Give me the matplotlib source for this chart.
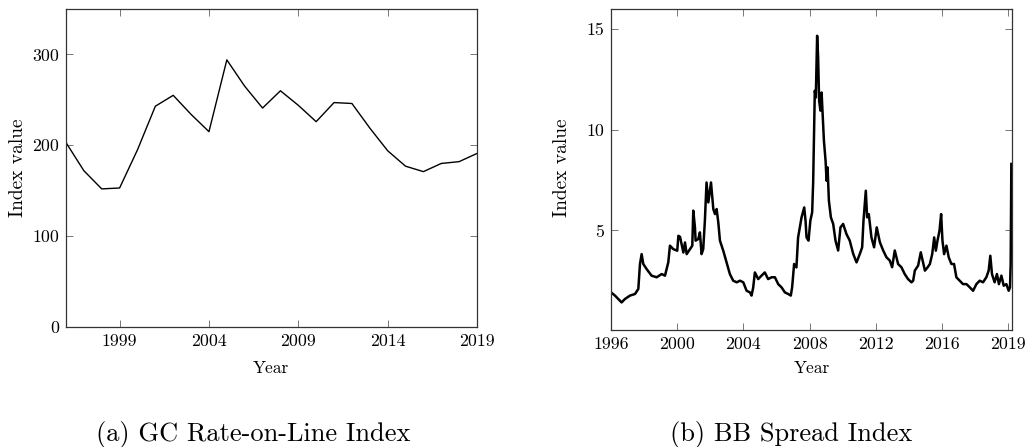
import matplotlib
matplotlib.use("Agg")
import matplotlib.pyplot as plt

# ---------------- data ----------------
gc_years = list(range(1996, 2020))
gc_values = [203, 172, 152, 153, 195, 243, 255, 234, 215, 294, 265, 241, 260, 244, 226,
             247, 246, 219, 194, 177, 171, 180, 182, 191]

bb_years = [1996.00, 1996.24, 1996.64, 1996.84, 1997.15, 1997.45, 1997.65, 1997.75, 1997.85, 1997.95,
            1998.15, 1998.45, 1998.76, 1999.06, 1999.26, 1999.46, 1999.56, 1999.76, 2000.00, 2000.07,
            2000.17, 2000.37, 2000.47, 2000.57, 2000.77, 2000.91, 2000.97, 2001.07, 2001.11, 2001.27,
            2001.37, 2001.47, 2001.57, 2001.67, 2001.77, 2001.88, 2002.04, 2002.18, 2002.28, 2002.38,
            2002.48, 2002.58, 2002.78, 2002.98, 2003.18, 2003.38, 2003.59, 2003.79, 2003.99, 2004.19,
            2004.39, 2004.49, 2004.59, 2004.69, 2004.89, 2005.09, 2005.29, 2005.49, 2005.70, 2005.90,
            2006.10, 2006.30, 2006.50, 2006.70, 2006.86, 2006.94, 2007.06, 2007.20, 2007.30, 2007.51,
            2007.67, 2007.75, 2007.81, 2007.93, 2008.04, 2008.15, 2008.21, 2008.31, 2008.37, 2008.45,
            2008.51, 2008.57, 2008.65, 2008.72, 2008.78, 2008.86, 2008.96, 2009.02, 2009.08, 2009.16,
            2009.28, 2009.42, 2009.56, 2009.72, 2009.86, 2010.02, 2010.22, 2010.42, 2010.63, 2010.83,
            2011.03, 2011.17, 2011.25, 2011.39, 2011.47, 2011.57, 2011.73, 2011.89, 2012.05, 2012.24,
            2012.44, 2012.64, 2012.84, 2012.98, 2013.14, 2013.34, 2013.54, 2013.74, 2013.94, 2014.15,
            2014.25, 2014.35, 2014.55, 2014.71, 2014.85, 2014.96, 2015.12, 2015.26, 2015.40, 2015.52,
            2015.62, 2015.72, 2015.84, 2015.94, 2016.02, 2016.12, 2016.26, 2016.40, 2016.56, 2016.72,
            2016.86, 2017.06, 2017.26, 2017.47, 2017.67, 2017.87, 2018.07, 2018.27, 2018.47, 2018.67,
            2018.81, 2018.91, 2019.01, 2019.17, 2019.31, 2019.43, 2019.58, 2019.72, 2019.88, 2020.02,
            2020.10, 2020.14, 2020.18]
bb_values = [1.92, 1.76, 1.42, 1.59, 1.76, 1.84, 2.09, 3.33, 3.82, 3.33,
             3.08, 2.75, 2.67, 2.83, 2.75, 3.41, 4.24, 4.07, 3.99, 4.73,
             4.68, 3.90, 4.40, 3.82, 4.07, 4.24, 5.98, 5.15, 4.49, 4.57,
             4.90, 3.82, 4.07, 5.48, 7.38, 6.39, 7.38, 6.06, 5.81, 6.06,
             5.40, 4.49, 3.99, 3.41, 2.83, 2.50, 2.42, 2.50, 2.42, 2.00,
             1.92, 1.76, 2.17, 2.91, 2.58, 2.75, 2.91, 2.58, 2.67, 2.67,
             2.33, 2.17, 1.92, 1.84, 1.76, 2.17, 3.33, 3.16, 4.65, 5.65,
             6.14, 5.48, 4.65, 4.49, 5.48, 5.90, 7.39, 11.94, 11.60, 14.67,
             13.60, 11.45, 10.95, 11.85, 10.78, 9.46, 8.46, 7.47, 8.13, 6.48,
             5.65, 5.32, 4.49, 4.00, 5.15, 5.32, 4.82, 4.49, 3.83, 3.41,
             3.83, 4.16, 5.48, 6.97, 5.65, 5.81, 4.65, 4.16, 5.15, 4.41,
             4.00, 3.66, 3.50, 3.17, 4.00, 3.33, 3.17, 2.83, 2.58, 2.42,
             2.50, 3.00, 3.25, 3.91, 3.41, 3.00, 3.16, 3.33, 3.82, 4.65,
             3.99, 4.49, 4.98, 5.81, 4.49, 3.82, 4.24, 3.66, 3.33, 3.33,
             2.67, 2.50, 2.33, 2.33, 2.17, 2.00, 2.33, 2.50, 2.42, 2.67,
             3.00, 3.74, 2.83, 2.42, 2.83, 2.33, 2.75, 2.25, 2.33, 2.00,
             2.17, 3.33, 8.30]

gc_xticks = [1999, 2004, 2009, 2014, 2019]
gc_yticks = [0, 100, 200, 300]
bb_xticks = [1996, 2000, 2004, 2008, 2012, 2016, 2020]
bb_xticklabels = ["1996", "2000", "2004", "2008", "2012", "2016", "2019"]
bb_yticks = [5, 10, 15]

# ---------------- style ----------------
plt.rcParams["font.family"] = ["cmr10", "DejaVu Serif"]
plt.rcParams["mathtext.fontset"] = "cm"
plt.rcParams["axes.formatter.use_mathtext"] = True
plt.rcParams["axes.unicode_minus"] = False

fig = plt.figure(figsize=(10.30, 4.47), dpi=100)
W, H = 1030.0, 447.0

def px_axes(l, t, r, b):
    return fig.add_axes([l / W, 1 - b / H, (r - l) / W, (b - t) / H])

ax1 = px_axes(66, 9, 477, 327)
ax2 = px_axes(611, 9, 1012, 330)

TICK_FS = 12.8
for ax in (ax1, ax2):
    for s in ax.spines.values():
        s.set_color("#333333")
        s.set_linewidth(0.9)
    ax.tick_params(direction="in", top=True, right=True, length=5, width=0.7,
                   color="#777777", labelsize=TICK_FS, pad=5)

ax1.plot(gc_years, gc_values, color="black", lw=1.0)
ax1.set_xlim(1996, 2019)
ax1.set_ylim(0, 350)
ax1.set_xticks(gc_xticks)
ax1.set_xticklabels([str(t) for t in gc_xticks])
ax1.set_yticks(gc_yticks)
ax1.set_yticklabels([str(t) for t in gc_yticks])

ax2.plot(bb_years, bb_values, color="black", lw=1.8)
ax2.set_xlim(1996.0, 2020.22)
ax2.set_ylim(0.05, 16)
ax2.set_xticks(bb_xticks)
ax2.set_xticklabels(bb_xticklabels)
ax2.set_yticks(bb_yticks)
ax2.set_yticklabels([str(t) for t in bb_yticks])

YLAB_FS = 14.0
XLAB_FS = 12.5
fig.text(18 / W, 1 - 168 / H, "Index value", rotation=90, ha="center", va="center", fontsize=YLAB_FS)
fig.text(562 / W, 1 - 168 / H, "Index value", rotation=90, ha="center", va="center", fontsize=YLAB_FS)
fig.text(271 / W, 1 - 368 / H, "Year", ha="center", va="center", fontsize=XLAB_FS)
fig.text(812 / W, 1 - 368 / H, "Year", ha="center", va="center", fontsize=XLAB_FS)

CAP_FS = 19
fig.text(253 / W, 1 - 435 / H, "(a) GC Rate-on-Line Index", ha="center", va="center", fontsize=CAP_FS)
fig.text(791 / W, 1 - 435 / H, "(b) BB Spread Index", ha="center", va="center", fontsize=CAP_FS)

fig.savefig("out.png", dpi=100)
